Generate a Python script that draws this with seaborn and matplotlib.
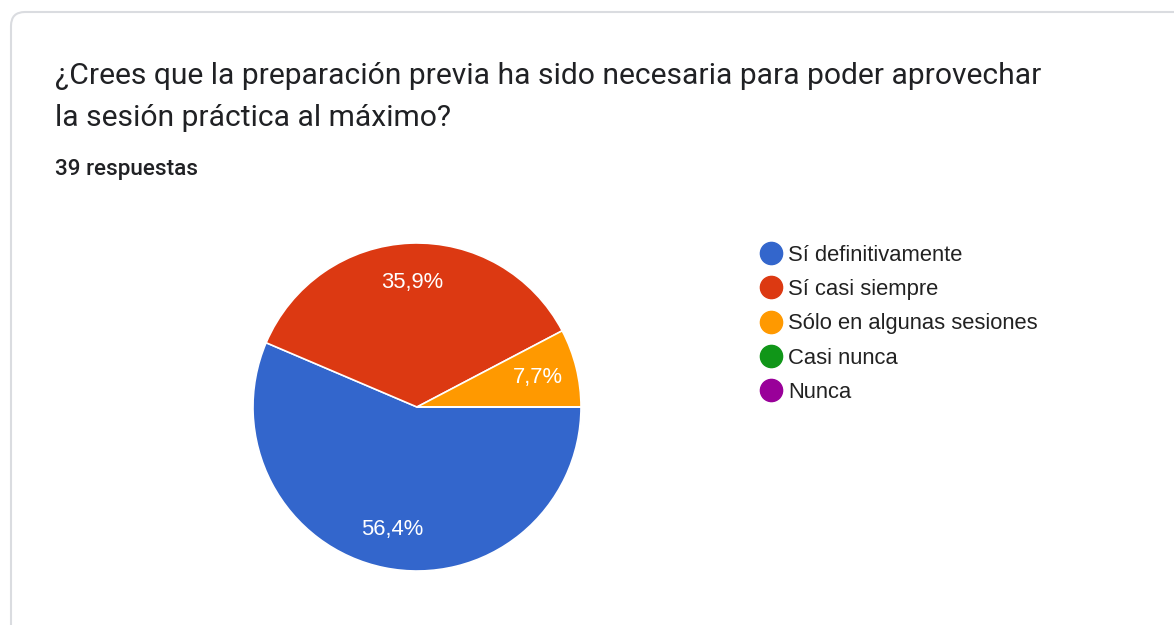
import numpy as np
import matplotlib.pyplot as plt
import seaborn as sns
from matplotlib.patches import FancyBboxPatch
from matplotlib.lines import Line2D

# Data
categories = ['Sí definitivamente', 'Sí casi siempre', 'Sólo en algunas sesiones', 'Casi nunca', 'Nunca']
counts = [22, 14, 3, 0, 0]
colors = ['#3366cc', '#dc3912', '#ff9900', '#109618', '#990099']
title_lines = ['¿Crees que la preparación previa ha sido necesaria para poder aprovechar',
               'la sesión práctica al máximo?']
subtitle = '39 respuestas'

sns.set_theme(style='white')
plt.rcParams['font.family'] = ['Liberation Sans', 'DejaVu Sans']

W, H = 1174, 625
fig = plt.figure(figsize=(W / 100, H / 100), dpi=100)
fig.patch.set_facecolor('white')

# background axes in pixel coordinates
bg = fig.add_axes([0, 0, 1, 1])
bg.set_xlim(0, W)
bg.set_ylim(H, 0)
bg.axis('off')
card = FancyBboxPatch((11, 12), W + 50, H + 50, boxstyle='round,pad=0,rounding_size=14',
                      facecolor='white', edgecolor='#dadce0', linewidth=1.5)
bg.add_patch(card)

bg.text(55, 84, title_lines[0], fontsize=21.6, family='Roboto', color='#202124', va='baseline')
bg.text(55, 126, title_lines[1], fontsize=21.6, family='Roboto', color='#202124', va='baseline')
bg.text(55, 175, subtitle, fontsize=16.2, family='Roboto', fontweight='medium', color='#202124', va='baseline')

# pie
cx, cy, r = 417, 407, 164
ax = fig.add_axes([(cx - r) / W, (H - cy - r) / H, 2 * r / W, 2 * r / H])
ax.set_aspect('equal')


def fmt(p):
    return f'{p:.1f}%'.replace('.', ',') if p > 0 else ''


wedges, texts, autotexts = ax.pie(counts, colors=colors, startangle=0, counterclock=False,
                                  autopct=fmt, pctdistance=0.76, radius=1,
                                  wedgeprops=dict(edgecolor='white', linewidth=1.2),
                                  textprops=dict(color='white', fontsize=15.8))
ax.set_xlim(-1, 1)
ax.set_ylim(-1, 1)

handles = [Line2D([], [], marker='o', linestyle='', markersize=16, markerfacecolor=c,
                  markeredgecolor=c) for c in colors]
leg = fig.legend(handles, categories, loc='upper left', bbox_to_anchor=(761 / W, 1 - 245 / H),
                 frameon=False, fontsize=15.8, handlelength=0.9, handletextpad=0.35,
                 labelspacing=0.6, borderaxespad=0, borderpad=0)
for t in leg.get_texts():
    t.set_color('#222222')

fig.savefig('out.png', dpi=100)
